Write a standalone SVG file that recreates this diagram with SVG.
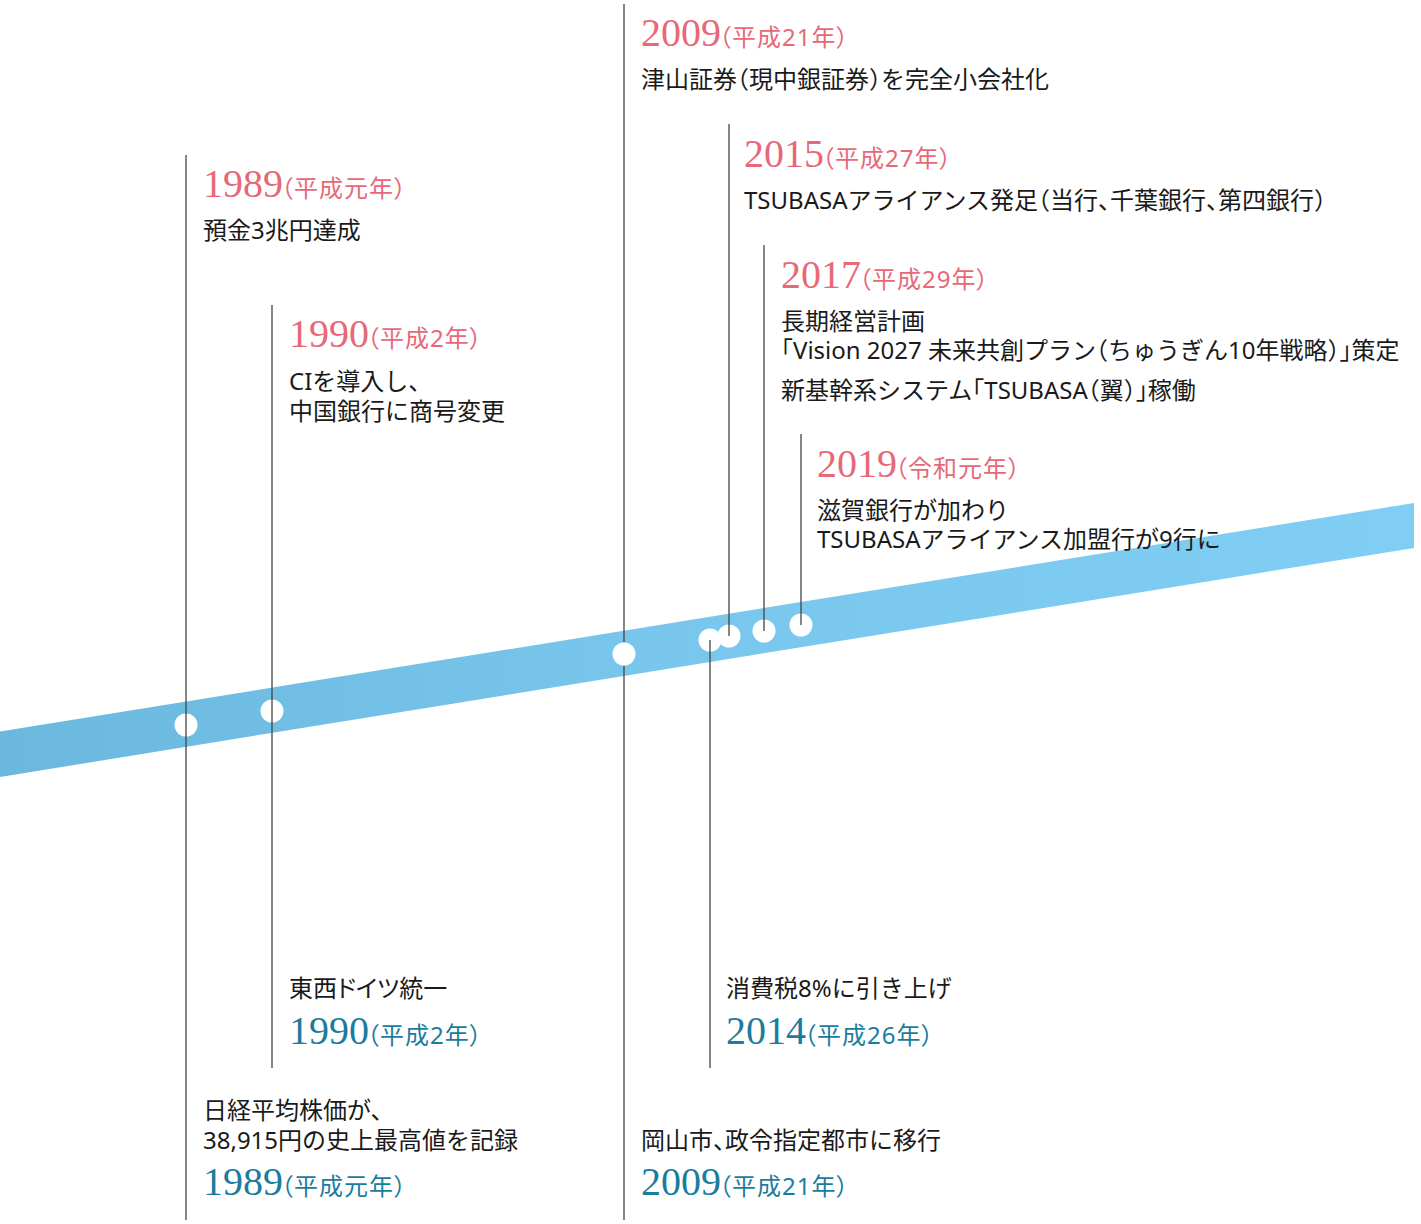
<svg xmlns="http://www.w3.org/2000/svg" width="1421" height="1224" viewBox="0 0 1421 1224">
<defs>
<linearGradient id="band" x1="0" y1="0" x2="1" y2="0">
<stop offset="0" stop-color="#6bb8de"/>
<stop offset="0.45" stop-color="#78c6ec"/>
<stop offset="1" stop-color="#80cef4"/>
</linearGradient>
</defs>
<style>
.yr{font-family:"Liberation Serif",serif;font-size:40px}
.pk{fill:#e86878}
.bl{fill:#1b7c9e}
.pr{font-family:"Noto Sans","Noto Sans CJK JP",sans-serif;font-size:24px;font-feature-settings:"palt";letter-spacing:1px}
.tx{font-family:"Noto Sans","Noto Sans CJK JP",sans-serif;font-size:24px;fill:#1a1a1a}
.h{font-feature-settings:"halt"}
.p{font-feature-settings:"palt"}
.ln{stroke:#444;stroke-width:1.3;fill:none}
.dot{fill:#fff}
</style>
<rect width="1421" height="1224" fill="#fff"/>
<polygon points="0,731.5 1414,503 1414,548 0,777" fill="url(#band)"/>
<g id="connectors">
<circle class="dot" cx="624" cy="654" r="11.5"/>
<line class="ln" x1="624" y1="4" x2="624" y2="642"/>
<line class="ln" x1="624" y1="666" x2="624" y2="1220"/>
<line class="ln" x1="186" y1="155" x2="186" y2="1220"/>
<line class="ln" x1="272" y1="305" x2="272" y2="1068"/>
<circle class="dot" cx="186" cy="725" r="11.5"/>
<circle class="dot" cx="272" cy="711" r="11.5"/>
<line class="ln" x1="186" y1="713" x2="186" y2="737"/>
<line class="ln" x1="272" y1="699" x2="272" y2="723"/>
<circle class="dot" cx="710" cy="640" r="11.5"/>
<circle class="dot" cx="729" cy="636" r="11.5"/>
<circle class="dot" cx="764" cy="631" r="11.5"/>
<circle class="dot" cx="801" cy="625" r="11.5"/>
<line class="ln" x1="729" y1="124" x2="729" y2="636"/>
<line class="ln" x1="764" y1="245" x2="764" y2="631"/>
<line class="ln" x1="801" y1="434" x2="801" y2="625"/>
<line class="ln" x1="710" y1="640" x2="710" y2="1068"/>
</g>
<g id="e1989a">
<text x="203" y="197"><tspan class="yr pk">1989</tspan><tspan class="pr pk" dx="-2">（平成元年）</tspan></text>
<text class="tx" x="203" y="239">預金3兆円達成</text>
</g>
<g id="e1990a">
<text x="289" y="347"><tspan class="yr pk">1990</tspan><tspan class="pr pk" dx="-2">（平成2年）</tspan></text>
<text class="tx" x="289" y="390">CIを導入し、</text>
<text class="tx" x="289" y="420">中国銀行に商号変更</text>
</g>
<g id="e2009a">
<text x="641" y="46"><tspan class="yr pk">2009</tspan><tspan class="pr pk" dx="-2">（平成21年）</tspan></text>
<text class="tx" x="641" y="88">津山証券<tspan class="h">（</tspan>現中銀証券<tspan class="h">）</tspan>を完全小会社化</text>
</g>
<g id="e2015">
<text x="744" y="167"><tspan class="yr pk">2015</tspan><tspan class="pr pk" dx="-2">（平成27年）</tspan></text>
<text class="tx" x="744" y="209">TSUBASAアライアンス発足<tspan class="h">（</tspan>当行<tspan class="h">、</tspan>千葉銀行<tspan class="h">、</tspan>第四銀行<tspan class="h">）</tspan></text>
</g>
<g id="e2017">
<text x="781" y="288"><tspan class="yr pk">2017</tspan><tspan class="pr pk" dx="-2">（平成29年）</tspan></text>
<text class="tx" x="781" y="330">長期経営計画</text>
<text class="tx" x="781" y="359"><tspan class="h">「</tspan>Vision 2027 未来共創プラン<tspan class="h">（</tspan>ちゅうぎん10年戦略<tspan class="h">）」</tspan>策定</text>
<text class="tx" x="781" y="399">新基幹系システム<tspan class="h">「</tspan>TSUBASA<tspan class="h">（</tspan>翼<tspan class="h">）」</tspan>稼働</text>
</g>
<g id="e2019">
<text x="817" y="477"><tspan class="yr pk">2019</tspan><tspan class="pr pk" dx="-2">（令和元年）</tspan></text>
<text class="tx" x="817" y="519">滋賀銀行が加わり</text>
<text class="tx" x="817" y="548">TSUBASAアライアンス加盟行が9行に</text>
</g>
<g id="e1990b">
<text class="tx" x="289" y="997">東西<tspan class="p">ドイツ</tspan>統一</text>
<text x="289" y="1044"><tspan class="yr bl">1990</tspan><tspan class="pr bl" dx="-2">（平成2年）</tspan></text>
</g>
<g id="e1989b">
<text class="tx" x="203" y="1119">日経平均株価が、</text>
<text class="tx" x="203" y="1149">38,915円の史上最高値を記録</text>
<text x="203" y="1195"><tspan class="yr bl">1989</tspan><tspan class="pr bl" dx="-2">（平成元年）</tspan></text>
</g>
<g id="e2014">
<text class="tx" x="726" y="997">消費税8%に引き上げ</text>
<text x="726" y="1044"><tspan class="yr bl">2014</tspan><tspan class="pr bl" dx="-2">（平成26年）</tspan></text>
</g>
<g id="e2009b">
<text class="tx" x="641" y="1149">岡山市<tspan class="h">、</tspan>政令指定都市に移行</text>
<text x="641" y="1195"><tspan class="yr bl">2009</tspan><tspan class="pr bl" dx="-2">（平成21年）</tspan></text>
</g>
</svg>
